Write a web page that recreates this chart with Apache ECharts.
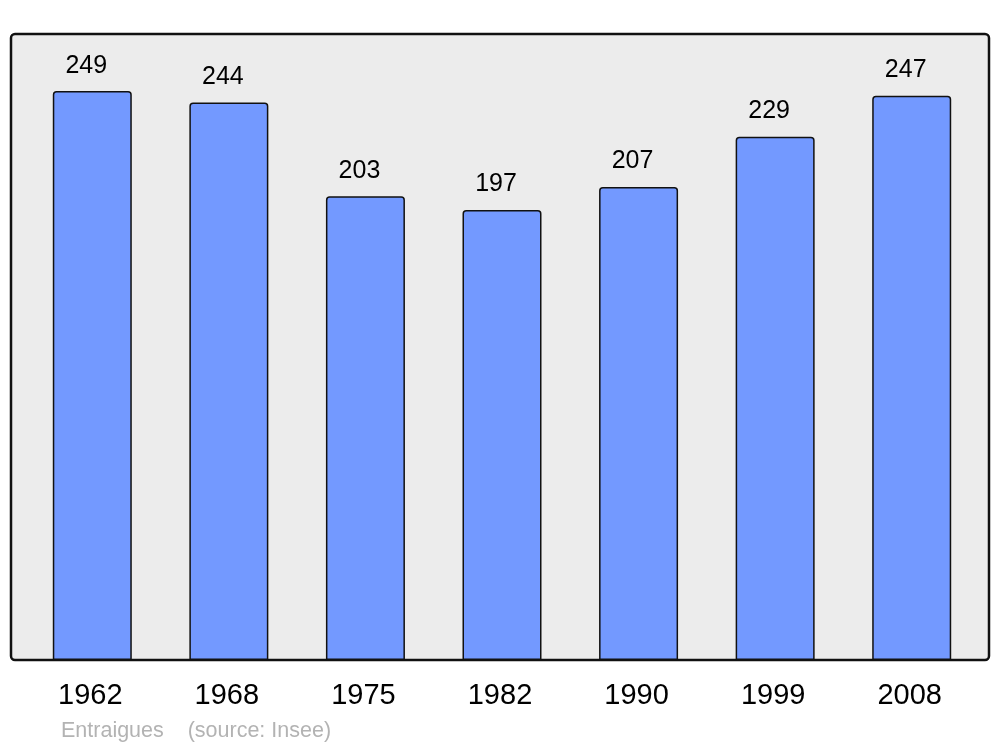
<!DOCTYPE html>
<html>
<head>
<meta charset="utf-8">
<script src="https://cdn.jsdelivr.net/npm/echarts@6/dist/echarts.min.js"></script>
<style>
  html, body { margin: 0; padding: 0; background: #fff; }
  #chart { width: 1000px; height: 747px; }
</style>
</head>
<body>
<div id="chart"></div>
<script>
// data
const years = ["1962", "1968", "1975", "1982", "1990", "1999", "2008"];
const population = [249, 244, 203, 197, 207, 229, 247];
const commune = "Entraigues";
const source = "(source: Insee)";

const chart = echarts.init(document.getElementById("chart"), null, { renderer: "canvas" });

const option = {
  backgroundColor: "#ffffff",
  animation: false,
  textStyle: { fontFamily: "Liberation Sans, Arial, sans-serif" },
  // gray plot box behind the bars
  graphic: [
    {
      type: "rect",
      z: -10,
      shape: { x: 11, y: 34, width: 978, height: 626, r: 4 },
      style: { fill: "#ececec", stroke: "#111", lineWidth: 2.5 }
    },
    {
      type: "text",
      left: 61,
      top: 720,
      style: {
        text: commune + "    " + source,
        fill: "#b3b3b3",
        font: "21.5px Liberation Sans, Arial, sans-serif"
      }
    }
  ],
  grid: { left: 24, right: 20, top: 34, bottom: 87 },
  xAxis: {
    type: "category",
    data: years,
    axisLine: { show: false },
    axisTick: { show: false },
    axisLabel: { color: "#000", fontSize: 29, margin: 21, padding: [0, 4, 0, 0] }
  },
  yAxis: {
    type: "value",
    min: 0,
    max: 274,
    show: false
  },
  series: [
    {
      type: "bar",
      data: population,
      barWidth: 79,
      itemStyle: {
        color: "#7399ff",
        borderColor: "#111",
        borderWidth: 1.5,
        borderRadius: [3, 3, 0, 0]
      },
      label: {
        show: true,
        position: "top",
        distance: 13,
        offset: [-6, 0],
        color: "#000",
        fontSize: 25
      }
    }
  ]
};

chart.setOption(option);
</script>
</body>
</html>
